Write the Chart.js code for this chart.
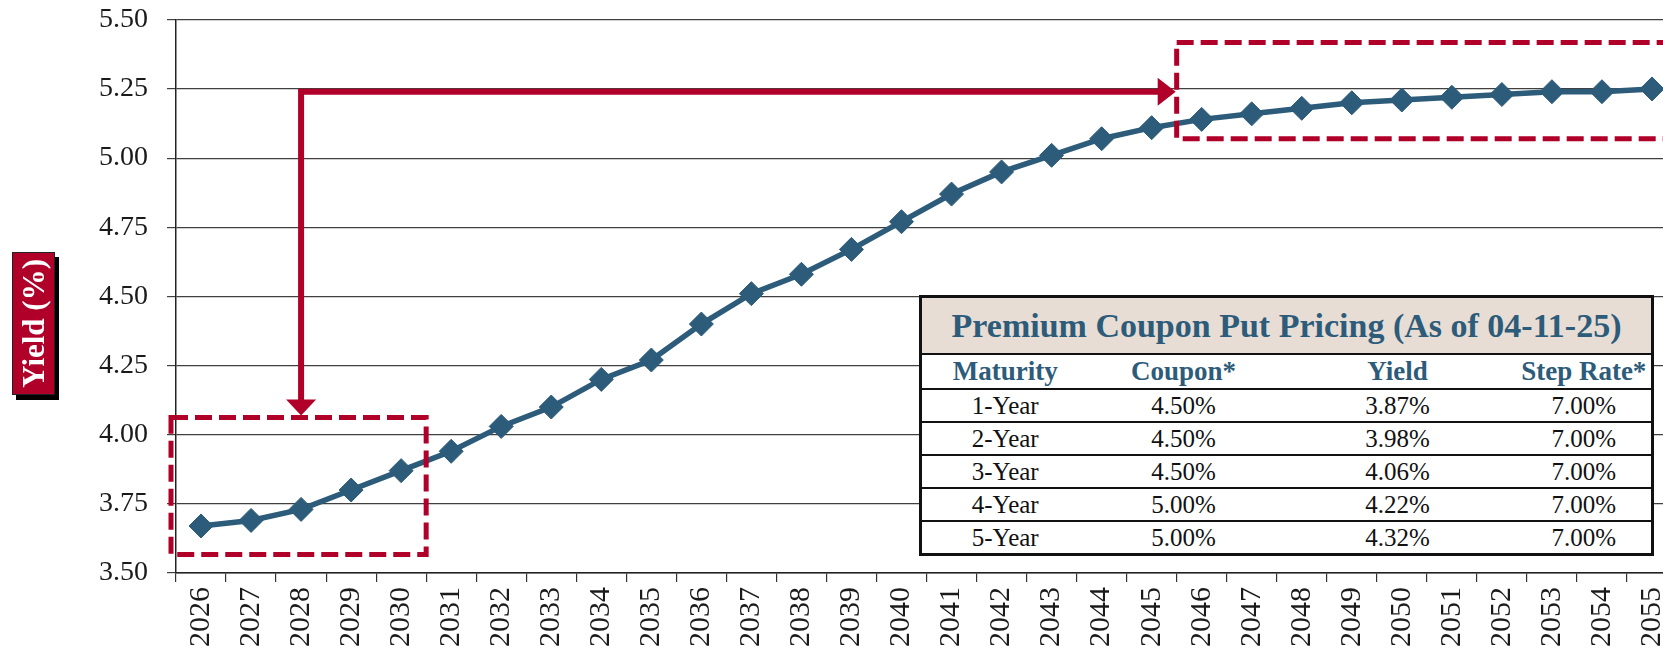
<!DOCTYPE html>
<html>
<head>
<meta charset="utf-8">
<script src="https://cdn.jsdelivr.net/npm/chart.js@4.4.1/dist/chart.umd.min.js"></script>
<style>
body{margin:0;width:1663px;height:650px;overflow:hidden;background:#fff;font-family:"Liberation Serif",serif;}
#wrap{position:absolute;left:0;top:-16px;width:1700px;height:666px;}
#ytitle{position:absolute;left:12px;top:252px;width:43px;height:143px;background:#B00029;border:1px solid #222;box-shadow:4px 5px 0 #000;box-sizing:border-box;display:flex;align-items:center;justify-content:center;}
#ytitle span{writing-mode:vertical-rl;transform:rotate(180deg);color:#fff;font-weight:bold;font-size:31px;white-space:nowrap;}
#tbl{position:absolute;left:919px;top:295px;width:732px;border-collapse:collapse;table-layout:fixed;background:#fff;border:3px solid #111;}
#tbl td,#tbl th{padding:0;text-align:center;border-bottom:2px solid #111;white-space:nowrap;}
#tbl .title th{background:#E8DDD4;color:#2D5B7A;font-size:34px;height:55px;}
#tbl .head th{color:#2D5B7A;font-size:27px;height:33px;}
#tbl td{font-size:25px;color:#111;height:31px;}
</style>
</head>
<body>
<div id="wrap"><canvas id="myChart" width="1700" height="666"></canvas></div>
<div id="ytitle"><span>Yield (%)</span></div>
<table id="tbl">
  <colgroup><col style="width:168px"><col style="width:190px"><col style="width:238px"><col style="width:136px"></colgroup>
  <tbody id="tbody"></tbody>
</table>
<script>
// curve
var years = ['2026','2027','2028','2029','2030','2031','2032','2033','2034','2035',
             '2036','2037','2038','2039','2040','2041','2042','2043','2044','2045',
             '2046','2047','2048','2049','2050','2051','2052','2053','2054','2055'];
var yields = [3.67,3.69,3.73,3.80,3.87,3.94,4.03,4.10,4.20,4.27,
              4.40,4.51,4.58,4.67,4.77,4.87,4.95,5.01,5.07,5.11,
              5.14,5.16,5.18,5.20,5.21,5.22,5.23,5.24,5.24,5.25];
var yMin = 3.5, yMax = 5.5, yStep = 0.25;

// pricing table
var tableTitle = 'Premium Coupon Put Pricing (As of 04-11-25)';
var tableHead = ['Maturity','Coupon*','Yield','Step Rate*'];
var maturities = ['1-Year','2-Year','3-Year','4-Year','5-Year'];
var coupons = ['4.50%','4.50%','4.50%','5.00%','5.00%'];
var putYields = ['3.87%','3.98%','4.06%','4.22%','4.32%'];
var stepRates = ['7.00%','7.00%','7.00%','7.00%','7.00%'];

var red = '#B00029';
var blue = '#2D5B7A';

var html = '<tr class="title"><th colspan="4">' + tableTitle + '</th></tr>';
html += '<tr class="head">' + tableHead.map(function(h){ return '<th>' + h + '</th>'; }).join('') + '</tr>';
for (var i = 0; i < maturities.length; i++) {
  html += '<tr><td>' + maturities[i] + '</td><td>' + coupons[i] + '</td><td>' + putYields[i] + '</td><td>' + stepRates[i] + '</td></tr>';
}
document.getElementById('tbody').innerHTML = html;

// dashed boxes + elbow arrow, placed in data units
var callouts = {
  id: 'callouts',
  afterDatasetsDraw: function(chart) {
    var ctx = chart.ctx, x = chart.scales.x, y = chart.scales.y;
    var b1 = {l: x.getPixelForValue(-0.6), r: x.getPixelForValue(4.5), t: y.getPixelForValue(4.062), b: y.getPixelForValue(3.567)};
    var b2 = {l: x.getPixelForValue(19.5), r: x.getPixelForValue(31), t: y.getPixelForValue(5.418), b: y.getPixelForValue(5.07)};
    ctx.save();
    ctx.strokeStyle = red;
    ctx.fillStyle = red;
    ctx.lineWidth = 5;
    ctx.lineJoin = 'miter';
    ctx.setLineDash([17, 7]);
    [b1, b2].forEach(function(b){
      ctx.beginPath();
      ctx.rect(b.l, b.t, b.r - b.l, b.b - b.t);
      ctx.stroke();
    });
    ctx.setLineDash([]);
    var ax = x.getPixelForValue(2), ay = y.getPixelForValue(5.24);
    var tipX = b2.l - 1, tipY = b1.t - 2;
    ctx.lineWidth = 6;
    ctx.beginPath();
    ctx.moveTo(tipX - 15, ay);
    ctx.lineTo(ax, ay);
    ctx.lineTo(ax, tipY - 14);
    ctx.stroke();
    ctx.beginPath();
    ctx.moveTo(tipX, ay);
    ctx.lineTo(tipX - 18, ay - 14);
    ctx.lineTo(tipX - 18, ay + 14);
    ctx.closePath();
    ctx.fill();
    ctx.beginPath();
    ctx.moveTo(ax, tipY);
    ctx.lineTo(ax - 15, tipY - 16);
    ctx.lineTo(ax + 15, tipY - 16);
    ctx.closePath();
    ctx.fill();
    ctx.restore();
  }
};

Chart.defaults.font.family = '"Liberation Serif", serif';
Chart.defaults.color = '#1a1a1a';

var ctx = document.getElementById('myChart');
var myChart = new Chart(ctx, {
  type: 'line',
  data: {
    labels: years,
    datasets: [{
      label: 'Yield',
      data: yields,
      borderColor: blue,
      backgroundColor: blue,
      borderWidth: 5.5,
      pointStyle: 'rectRot',
      pointRadius: 12,
      pointBorderWidth: 1,
      pointBackgroundColor: blue,
      pointBorderColor: blue,
      tension: 0
    }]
  },
  options: {
    responsive: false,
    animation: false,
    layout: { padding: { left: 0, top: 4, right: 23, bottom: 0 } },
    plugins: { legend: { display: false }, tooltip: { enabled: false } },
    scales: {
      x: {
        offset: true,
        grid: { offset: true, drawOnChartArea: false, tickLength: 9, color: '#333', lineWidth: 1.2 },
        border: { color: '#222', width: 1.5 },
        ticks: { minRotation: 90, maxRotation: 90, padding: 5, autoSkip: false, font: { size: 30 }, color: '#1a1a1a' },
        afterFit: function(s){ s.height = 77; }
      },
      y: {
        min: yMin,
        max: yMax,
        grid: { color: '#404040', lineWidth: 1.2, tickLength: 9 },
        border: { color: '#222', width: 1.5 },
        ticks: { stepSize: yStep, padding: 19, font: { size: 28 }, color: '#1a1a1a',
                 callback: function(v){ return v.toFixed(2); } },
        afterFit: function(s){ s.width = 176; }
      }
    }
  },
  plugins: [callouts]
});
</script>
</body>
</html>
